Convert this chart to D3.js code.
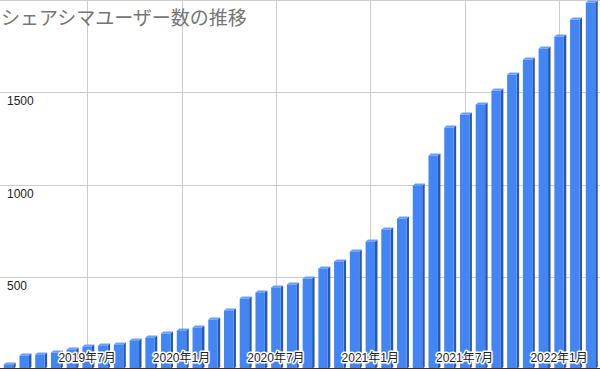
<!DOCTYPE html>
<html>
<head>
<meta charset="utf-8">
<script src="https://cdn.jsdelivr.net/npm/d3@7"></script>
<style>
  body { margin: 0; background: #fff; }
  svg { display: block; }
</style>
</head>
<body>
<svg id="chart" width="600" height="371"></svg>
<script>
// シェアシマユーザー数の推移 -- 3d column look (like sheets)

const months = ["2019-02","2019-03","2019-04","2019-05","2019-06","2019-07","2019-08","2019-09",
                "2019-10","2019-11","2019-12","2020-01","2020-02","2020-03","2020-04","2020-05",
                "2020-06","2020-07","2020-08","2020-09","2020-10","2020-11","2020-12","2021-01",
                "2021-02","2021-03","2021-04","2021-05","2021-06","2021-07","2021-08","2021-09",
                "2021-10","2021-11","2021-12","2022-01","2022-02","2022-03"];
const users = [25, 73, 79, 89, 106, 122, 128, 133,
               155, 171, 192, 209, 225, 268, 317, 382,
               415, 442, 458, 490, 545, 583, 637, 691,
               756, 816, 995, 1157, 1309, 1379, 1434, 1509,
               1596, 1677, 1737, 1802, 1894, 1986];
const tickMonths = ["2019-07","2020-01","2020-07","2021-01","2021-07","2022-01"];
const tickLabels = ["2019年7月","2020年1月","2020年7月","2021年1月","2021年7月","2022年1月"];
const yTicks = [500, 1000, 1500, 2000];

const W = 600, H = 371;
const base = 369;            // y of zero line
const dep = 2.5;             // depth of the 3d side
const rise = 2;              // height of top face
const colrs = ["#4285f4", "#2b58a8", "#6b9ff7", "#cccccc", "#333333", "#757575"];

const svg = d3.select("#chart");
const g = svg.append("g");

const x = d3.scaleBand().domain(months).range([0.6, 598.4]).padding(0);
const y = d3.scaleLinear().domain([0, 2000]).range([base, 0]);
const bw = x.step() * 0.6;

function cx(m) { return x(m) + x.bandwidth() / 2; }

// grid
g.selectAll("line.hg").data(yTicks).join("line").attr("class", "hg")
  .attr("x1", 0).attr("x2", W).attr("y1", d => Math.round(y(d)) + 0.5).attr("y2", d => Math.round(y(d)) + 0.5)
  .attr("stroke", colrs[3]).attr("stroke-width", 1);
g.selectAll("line.vg").data(tickMonths).join("line").attr("class", "vg")
  .attr("x1", d => Math.round(cx(d)) + 0.5).attr("x2", d => Math.round(cx(d)) + 0.5)
  .attr("y1", 0).attr("y2", base)
  .attr("stroke", colrs[3]).attr("stroke-width", 1);

// title
svg.append("text").text("シェアシマユーザー数の推移")
  .attr("x", 1).attr("y", 25)
  .attr("font-family", "'Noto Sans CJK JP', sans-serif").attr("font-size", 19)
  .attr("fill", colrs[5]);

// bars
const bars = g.selectAll("g.bar").data(months).join("g").attr("class", "bar");
bars.append("path").attr("fill", colrs[1]).attr("d", (m, i) => {
  const r = cx(m) + bw / 2, t = y(users[i]);
  return "M" + r + "," + t + " L" + (r + dep) + "," + (t - rise) + " L" + (r + dep) + "," + (base - rise)
       + " L" + r + "," + base + " Z";
});
bars.append("path").attr("fill", colrs[2]).attr("d", (m, i) => {
  const l = cx(m) - bw / 2, r = cx(m) + bw / 2, t = y(users[i]);
  return "M" + l + "," + t + " L" + (l + dep) + "," + (t - rise) + " L" + (r + dep) + "," + (t - rise)
       + " L" + r + "," + t + " Z";
});
bars.append("rect").attr("fill", colrs[0])
  .attr("x", m => cx(m) - bw / 2).attr("width", bw)
  .attr("y", (m, i) => y(users[i])).attr("height", (m, i) => base - y(users[i]));

// baseline
g.append("line").attr("x1", 0).attr("x2", W).attr("y1", base - 0.5).attr("y2", base - 0.5)
  .attr("stroke", colrs[4]).attr("stroke-width", 1);

// y labels, inside plot under grid line
g.selectAll("text.yl").data(yTicks.slice(0, 3)).join("text").attr("class", "yl")
  .text(d => d).attr("x", 7).attr("y", d => y(d) + 13)
  .attr("font-family", "Arial, 'Liberation Sans', sans-serif").attr("font-size", 12)
  .attr("fill", "#222");

// x labels with white halo
g.selectAll("text.xl").data(tickMonths).join("text").attr("class", "xl")
  .text((d, i) => tickLabels[i]).attr("x", d => cx(d)).attr("y", 362)
  .attr("text-anchor", "middle")
  .attr("font-family", "'Liberation Sans', 'Noto Sans CJK JP', sans-serif").attr("font-size", 12)
  .attr("fill", "#222").attr("stroke", "#fff").attr("stroke-width", 3)
  .attr("stroke-linejoin", "round").attr("paint-order", "stroke");
</script>
</body>
</html>
